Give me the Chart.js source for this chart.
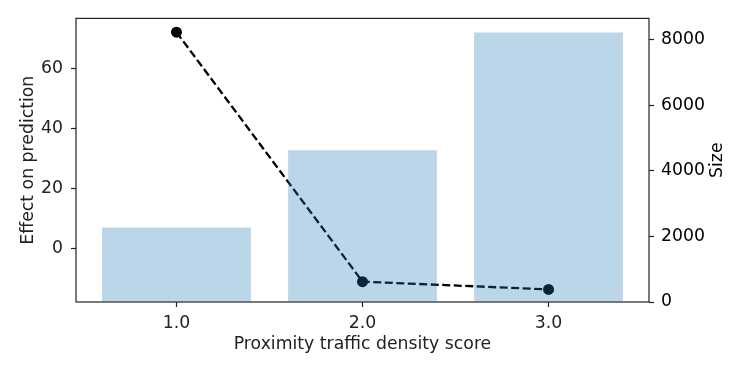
<!DOCTYPE html>
<html>
<head>
<meta charset="utf-8">
<script src="https://cdn.jsdelivr.net/npm/chart.js@4"></script>
<style>
  html, body { margin: 0; padding: 0; background: #fff; }
  #wrap { width: 747px; height: 374px; }
</style>
</head>
<body>
<div id="wrap"><canvas id="effectChart"></canvas></div>
<script>
// data
const categories = [1, 2, 3];
const categoryLabels = ['1.0', '2.0', '3.0'];
const effectValues = [72.1, -11.2, -13.8];
const sizeValues = [2270, 4620, 8210];
const leftTicks = [0, 20, 40, 60];
const rightTicks = [0, 2000, 4000, 6000, 8000];

const font = { family: 'DejaVu Sans', size: 17.3 };
const inkColor = '#222';

// box around the plot area + right axis title (rotated like matplotlib)
const frame = {
    id: 'frame',
    afterDatasetsDraw(chart) {
        const a = chart.chartArea;
        const ctx = chart.ctx;
        ctx.save();
        ctx.strokeStyle = '#222';
        ctx.lineWidth = 1.2;
        ctx.strokeRect(a.left, a.top, a.right - a.left, a.bottom - a.top);
        ctx.restore();
    },
    afterDraw(chart) {
        const a = chart.chartArea;
        const ctx = chart.ctx;
        ctx.save();
        ctx.translate(718, (a.top + a.bottom) / 2);
        ctx.rotate(-Math.PI / 2);
        ctx.font = font.size + 'px "' + font.family + '"';
        ctx.fillStyle = '#000';
        ctx.textAlign = 'center';
        ctx.textBaseline = 'middle';
        ctx.fillText('Size', 0, 0);
        ctx.restore();
    }
};

function fixedTicks(values) {
    return scale => { scale.ticks = values.map(v => ({ value: v })); };
}

const ctx = document.getElementById('effectChart').getContext('2d');

new Chart(ctx, {
    data: {
        datasets: [{
            type: 'bar',
            label: 'Size',
            data: categories.map((c, i) => ({ x: c, y: sizeValues[i] })),
            backgroundColor: 'rgba(31, 119, 180, 0.3)',
            borderWidth: 0,
            yAxisID: 'ySize',
            barPercentage: 0.8,
            categoryPercentage: 1.0,
            order: 0
        }, {
            type: 'line',
            label: 'Effect',
            data: categories.map((c, i) => ({ x: c, y: effectValues[i] })),
            borderColor: '#000',
            borderWidth: 2.3,
            borderDash: [8, 3.5],
            pointRadius: 5.5,
            pointBackgroundColor: '#000',
            pointBorderWidth: 0,
            fill: false,
            tension: 0,
            yAxisID: 'yEffect',
            order: 1
        }]
    },
    options: {
        responsive: true,
        maintainAspectRatio: false,
        animation: false,
        layout: { padding: { top: 18, left: 0, right: 0, bottom: 0 } },
        plugins: { legend: { display: false }, tooltip: { enabled: false } },
        scales: {
            x: {
                type: 'linear',
                offset: false,
                min: 0.46,
                max: 3.54,
                afterBuildTicks: fixedTicks(categories),
                afterFit: s => { s.height = 72; },
                grid: { offset: false, drawOnChartArea: false, tickLength: 5, color: '#222', tickWidth: 1.2 },
                border: { display: false },
                ticks: {
                    color: inkColor, font, padding: 6,
                    callback: v => categoryLabels[categories.indexOf(v)]
                },
                title: {
                    display: true, text: 'Proximity traffic density score',
                    color: inkColor, font, padding: { top: 0, bottom: 19 }
                }
            },
            yEffect: {
                type: 'linear',
                position: 'left',
                min: -18,
                max: 76.7,
                afterBuildTicks: fixedTicks(leftTicks),
                afterFit: s => { s.width = 76; },
                grid: { drawOnChartArea: false, tickLength: 5, color: '#222', tickWidth: 1.2 },
                border: { display: false },
                ticks: { color: inkColor, font, padding: 8 },
                title: {
                    display: true, text: 'Effect on prediction',
                    color: inkColor, font, padding: { top: 18, bottom: 0 }
                }
            },
            ySize: {
                type: 'linear',
                position: 'right',
                min: 0,
                max: 8640,
                afterBuildTicks: fixedTicks(rightTicks),
                afterFit: s => { s.width = 98; },
                grid: { drawOnChartArea: false, tickLength: 5, color: '#222', tickWidth: 1.2 },
                border: { display: false },
                ticks: { color: '#000', font, padding: 7, callback: v => String(v) }
            }
        }
    },
    plugins: [frame]
});
</script>
</body>
</html>
